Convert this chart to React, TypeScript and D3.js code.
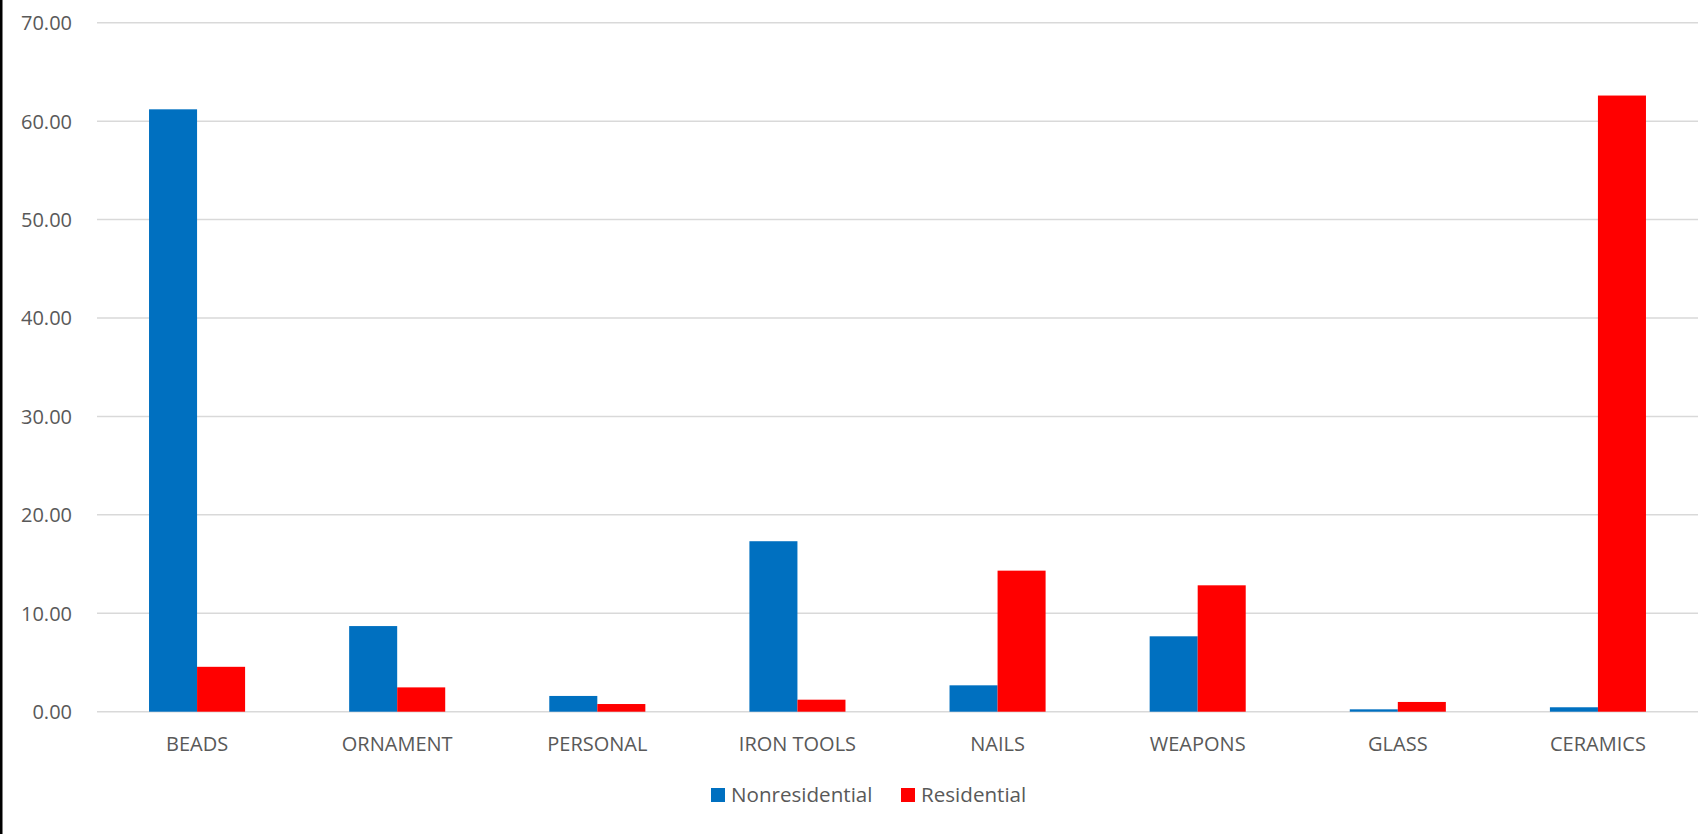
import React from "react";
import * as d3 from "d3";

const categories = ["BEADS", "ORNAMENT", "PERSONAL", "IRON TOOLS", "NAILS", "WEAPONS", "GLASS", "CERAMICS"];
const nonresidential = [61.2, 8.7, 1.6, 17.32, 2.68, 7.66, 0.24, 0.45];
const residential = [4.56, 2.47, 0.78, 1.22, 14.33, 12.84, 0.99, 62.6];
const seriesNames = ["Nonresidential", "Residential"];
const seriesColors = ["#0070C0", "#FF0000"];
const yTicks = [0, 10, 20, 30, 40, 50, 60, 70];

const W = 1700;
const H = 834;
const plotLeft = 97;
const plotRight = 1698;
const plotTop = 22.7;
const plotBottom = 711.7;
const FONT = "'Open Sans', 'Noto Sans', sans-serif";
const TEXT = "#595959";

export default function App() {
  const x0 = d3.scaleBand<string>().domain(categories).range([plotLeft, plotRight]).padding(0);
  const groupW = x0.step() * 0.48;
  const x1 = d3.scaleBand<string>().domain(seriesNames).range([0, groupW]).padding(0);
  const y = d3.scaleLinear().domain([0, 70]).range([plotBottom, plotTop]);
  const series = [nonresidential, residential];

  return (
    <svg
      width={W}
      height={H}
      style={{ position: "absolute", left: 0, top: 0, background: "#fff" }}
      fontFamily={FONT}
    >
      <rect x={0} y={0} width={W} height={H} fill="#fff" />
      {/* left frame edge */}
      <line x1={1.25} x2={1.25} y1={0} y2={H} stroke="#000" strokeWidth={2.5} />

      {/* gridlines and value labels */}
      {yTicks.map((t) => (
        <g key={t}>
          <line x1={plotLeft} x2={plotRight} y1={y(t)} y2={y(t)} stroke="#D9D9D9" strokeWidth={1.5} />
          <text x={72} y={y(t)} textAnchor="end" dominantBaseline="central" fontSize={20} fill={TEXT}>
            {t.toFixed(2)}
          </text>
        </g>
      ))}

      {/* grouped bars */}
      {categories.map((c, i) => {
        const gx = (x0(c) as number) + x0.bandwidth() / 2 - groupW / 2;
        return (
          <g key={c}>
            {series.map((vals, s) => (
              <rect
                key={s}
                x={gx + (x1(seriesNames[s]) as number)}
                y={y(vals[i])}
                width={x1.bandwidth()}
                height={y(0) - y(vals[i])}
                fill={seriesColors[s]}
              />
            ))}
            <text
              x={(x0(c) as number) + x0.bandwidth() / 2}
              y={743}
              textAnchor="middle"
              dominantBaseline="central"
              fontSize={20}
              fill={TEXT}
            >
              {c}
            </text>
          </g>
        );
      })}

      {/* legend */}
      <g>
        <rect x={711} y={788} width={14} height={14} fill={seriesColors[0]} />
        <text x={731} y={794} dominantBaseline="central" fontSize={20.6} fill={TEXT}>
          {seriesNames[0]}
        </text>
        <rect x={901} y={788} width={14} height={14} fill={seriesColors[1]} />
        <text x={921} y={794} dominantBaseline="central" fontSize={20.6} fill={TEXT}>
          {seriesNames[1]}
        </text>
      </g>
    </svg>
  );
}
